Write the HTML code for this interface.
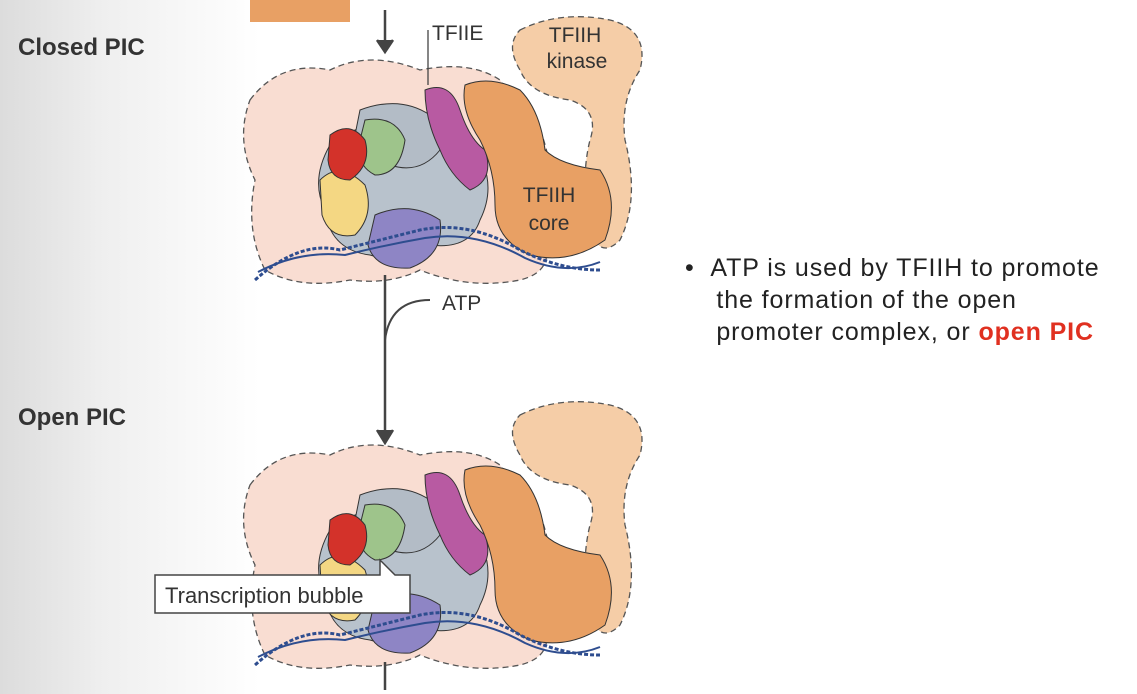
<!DOCTYPE html>
<html><head><style>
body{margin:0;width:1137px;height:694px;overflow:hidden;background:#fff;font-family:"Liberation Sans",sans-serif;}
.bg{position:absolute;left:0;top:0;width:260px;height:694px;background:linear-gradient(90deg,#dcdcdc 0%,#efefef 40%,#fff 100%);}
.lab{position:absolute;font-weight:bold;font-size:24px;color:#333;}
.bul{position:absolute;left:685px;top:252px;font-size:25px;line-height:32px;color:#222;letter-spacing:0.9px;}
</style></head><body>
<div class="bg"></div>
<div class="lab" style="left:18px;top:34px">Closed PIC</div>
<div class="lab" style="left:18px;top:404px">Open PIC</div>
<svg width="1137" height="694" style="position:absolute;left:0;top:0">
<defs>
<g id="cx">
 <path d="M250,100 Q280,60 330,70 Q370,50 420,70 Q470,60 500,80 L540,130 Q560,180 540,230 Q560,270 520,280 Q470,290 420,270 Q390,285 350,280 Q300,290 265,270 Q245,230 255,180 Q235,140 250,100Z" fill="#f9ddd2" stroke="#555" stroke-dasharray="6,4" stroke-width="1.3"/>
 <path d="M520,30 Q560,10 610,20 Q650,30 640,70 Q620,100 625,140 Q640,200 620,240 Q600,260 590,230 Q580,180 590,140 Q600,110 570,100 Q530,95 520,70 Q505,45 520,30Z" fill="#f5cda7" stroke="#555" stroke-dasharray="6,4" stroke-width="1.3"/>
 <path d="M330,145 Q360,120 400,125 Q440,110 470,140 Q500,180 480,220 Q470,250 430,245 Q400,265 370,255 Q330,250 325,210 Q310,180 330,145Z" fill="#b8c2cc" stroke="#333"/>
 <path d="M360,110 Q400,95 430,115 L440,150 Q420,175 390,165 Q360,160 355,135Z" fill="#b3bcc6" stroke="#333"/>
 <path d="M375,215 Q410,200 440,220 Q445,255 410,268 Q375,270 368,245Z" fill="#8e85c5" stroke="#333"/>
 <path d="M365,120 Q395,115 405,140 Q400,175 375,175 Q355,165 360,140Z" fill="#9ec48b" stroke="#333"/>
 <path d="M320,180 Q340,160 365,185 Q375,215 355,235 Q330,240 322,215Z" fill="#f4d783" stroke="#333"/>
 <path d="M330,135 Q350,120 365,140 Q372,165 350,180 Q330,180 328,160Z" fill="#d3322a" stroke="#333"/>
 <path d="M425,90 Q450,80 460,110 Q470,140 485,150 Q495,180 470,190 Q450,175 440,150 Q425,120 425,90Z" fill="#b85aa2" stroke="#333"/>
 <path d="M465,85 Q490,75 520,90 Q540,110 545,150 Q560,165 600,170 Q620,200 605,240 Q570,265 530,255 Q495,240 495,205 Q495,170 480,140 Q460,110 465,85Z" fill="#e8a064" stroke="#333"/>
 <path d="M255,280 Q300,240 340,250 Q380,240 420,230 Q470,220 520,250 Q560,270 600,270" fill="none" stroke="#2e4d8f" stroke-width="3" stroke-dasharray="4,2"/>
 <path d="M258,272 Q300,250 345,255 Q385,245 425,238 Q475,230 525,258 Q565,276 600,262" fill="none" stroke="#2e4d8f" stroke-width="2"/>
</g>
</defs>
<use href="#cx"/>
<use href="#cx" y="385"/>
<rect x="250" y="0" width="100" height="22" fill="#e8a064"/>
<g stroke="#444" stroke-width="2.5" fill="none">
<line x1="385" y1="10" x2="385" y2="50"/><path d="M377,40 L385,52 L393,40" fill="#444"/>
<line x1="385" y1="275" x2="385" y2="440"/><path d="M377,430 L385,443 L393,430" fill="#444"/>
<line x1="385" y1="662" x2="385" y2="690"/>
<path d="M385,340 Q390,300 430,300" stroke-width="2"/>
<line x1="428" y1="30" x2="428" y2="85" stroke-width="1.3"/>
</g>
<g font-size="21" fill="#333">
<text x="442" y="310">ATP</text>
<text x="432" y="40">TFIIE</text>
<text x="575" y="42" text-anchor="middle">TFIIH</text><text x="577" y="68" text-anchor="middle">kinase</text>
<text x="549" y="202" text-anchor="middle">TFIIH</text><text x="549" y="230" text-anchor="middle">core</text>
</g>
<path d="M155,575 L380,575 L380,560 L395,575 L410,575 L410,613 L155,613Z" fill="#fff" stroke="#444" stroke-width="1.5"/>
<text x="165" y="603" font-size="22" fill="#333">Transcription bubble</text>
</svg>
<div class="bul">•&nbsp;&nbsp;ATP is used by TFIIH to promote<br>&nbsp;&nbsp;&nbsp;&nbsp;the formation of the open<br>&nbsp;&nbsp;&nbsp;&nbsp;promoter complex, or <b style="color:#e03020">open PIC</b></div>
</body></html>
